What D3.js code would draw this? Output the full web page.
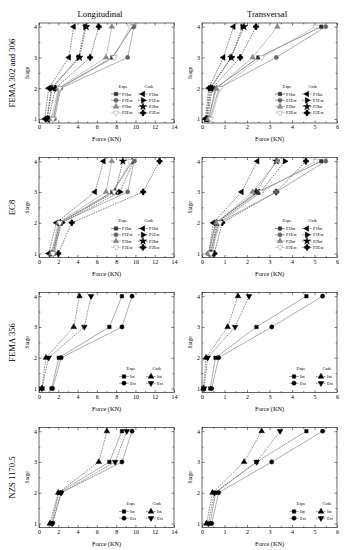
<!DOCTYPE html>
<html>
<head>
<meta charset="utf-8">
<script src="https://cdn.jsdelivr.net/npm/d3@7"></script>
<style>
  body { margin: 0; background: #fff; }
  svg { font-family: "Liberation Serif", "Times New Roman", serif; }
</style>
</head>
<body>
<svg id="chart" width="345" height="550"></svg>
<script>
// ---- data ----
const stages = [1, 2, 3, 4];
const forceTicksLong = [0, 2, 4, 6, 8, 10, 12, 14];
const forceTicksTrans = [0, 1, 2, 3, 4, 5, 6];
const colTitles = ["Longitudinal", "Transversal"];
const rowTitles = ["FEMA 302 and 306", "EC8", "FEMA 356", "NZS 1170.5"];
const labels4 = ["P1Int", "P1Ext", "P2Int", "P2Ext"];
const labels2 = ["Int", "Ext"];

// experimental, order P1Int, P1Ext, P2Int, P2Ext
const expeLong = [
  [1.5, 2.1, 7.6, 9.7],
  [1.6, 2.25, 9.2, 9.85],
  [1.3, 2.0, 6.95, 7.55],
  [1.45, 2.15, 7.8, 9.45]
];
const expeTrans = [
  [0.3, 0.6, 2.5, 5.3],
  [0.35, 0.75, 3.3, 5.5],
  [0.28, 0.65, 2.25, 3.35],
  [0.4, 0.8, 2.65, 5.05]
];
// experimental averaged, order Int, Ext
const expeLongAvg = [
  [1.3, 2.05, 7.3, 8.6],
  [1.4, 2.3, 8.6, 9.65]
];
const expeTransAvg = [
  [0.36, 0.6, 2.42, 4.64],
  [0.43, 0.74, 3.1, 5.36]
];

// code predictions
const femaLong = [
  [0.6, 1.0, 3.1, 3.6],
  [0.8, 1.3, 4.1, 4.8],
  [0.85, 1.35, 4.2, 4.9],
  [1.0, 1.7, 5.3, 6.2]
];
const femaTrans = [
  [0.15, 0.3, 0.95, 1.4],
  [0.2, 0.35, 1.3, 1.8],
  [0.2, 0.4, 1.3, 1.87],
  [0.25, 0.45, 1.7, 2.4]
];
const ec8Long = [
  [1.0, 1.8, 5.8, 6.7],
  [1.4, 2.4, 8.4, 9.8],
  [1.3, 2.2, 7.9, 8.7],
  [2.0, 3.4, 10.8, 12.5]
];
const ec8Trans = [
  [0.3, 0.5, 1.76, 2.46],
  [0.45, 0.7, 2.6, 3.68],
  [0.4, 0.65, 2.4, 3.3],
  [0.55, 0.9, 3.3, 4.62]
];
const fema356Long = [
  [0.3, 0.72, 3.6, 4.2],
  [0.3, 1.0, 4.7, 5.4]
];
const fema356Trans = [
  [0.06, 0.18, 1.14, 1.6],
  [0.09, 0.25, 1.47, 2.09]
];
const nzsLong = [
  [1.13, 2.0, 6.2, 7.04],
  [1.37, 2.3, 7.9, 9.1]
];
const nzsTrans = [
  [0.2, 0.47, 1.87, 2.65],
  [0.28, 0.55, 2.43, 3.47]
];

// ---- layout ----
const svg = d3.select("#chart");
const colX = [39, 202];
const plotW = 135, plotH = 100;
const rowY = [23, 157.5, 292.5, 427.5];

// symbols
const tri = d3.symbol().type(d3.symbolTriangle).size(14)();
const shapes = {
  square: { d: d3.symbol().type(d3.symbolSquare).size(12)(), rot: 0 },
  circle: { d: d3.symbol().type(d3.symbolCircle).size(14)(), rot: 0 },
  up: { d: tri, rot: 0 },
  down: { d: tri, rot: 180 },
  left: { d: tri, rot: -90 },
  right: { d: tri, rot: 90 },
  star: { d: d3.symbol().type(d3.symbolStar).size(16)(), rot: 0 },
  plus: { d: d3.symbol().type(d3.symbolCross).size(16)() + d3.symbol().type(d3.symbolDiamond).size(12)(), rot: 0 }
};

const expeStyle4 = [
  { shape: "square", fill: "#333", stroke: "#333", line: "#444" },
  { shape: "circle", fill: "#666", stroke: "#666", line: "#777" },
  { shape: "up", fill: "#888", stroke: "#888", line: "#999" },
  { shape: "down", fill: "#fff", stroke: "#999", line: "#aaa" }
];
const codeStyle4 = [
  { shape: "left", fill: "#000", stroke: "#000", line: "#333" },
  { shape: "right", fill: "#000", stroke: "#000", line: "#333" },
  { shape: "star", fill: "#000", stroke: "#000", line: "#333" },
  { shape: "plus", fill: "#000", stroke: "#000", line: "#333" }
];
const expeStyle2 = [
  { shape: "square", fill: "#000", stroke: "#000", line: "#777" },
  { shape: "circle", fill: "#000", stroke: "#000", line: "#777" }
];
const codeStyle2 = [
  { shape: "up", fill: "#000", stroke: "#000", line: "#444" },
  { shape: "down", fill: "#000", stroke: "#000", line: "#444" }
];

function marker(g, style, x, y) {
  const s = shapes[style.shape];
  g.append("path")
    .attr("d", s.d)
    .attr("transform", "translate(" + x + "," + y + ") rotate(" + s.rot + ")")
    .attr("fill", style.fill)
    .attr("stroke", style.stroke)
    .attr("stroke-width", 0.5);
}

function panel(row, col, expe, code, expeStyles, codeStyles, names, legendX) {
  const g = svg.append("g")
    .attr("transform", "translate(" + colX[col] + "," + rowY[row] + ")");
  const xMax = col === 0 ? 14 : 6;
  const x = d3.scaleLinear().domain([0, xMax]).range([0, plotW]);
  const y = d3.scaleLinear().domain([0.87, 4.12]).range([plotH, 0]);
  const ticks = col === 0 ? forceTicksLong : forceTicksTrans;
  const minor = ticks.slice(0, -1).map((t, i) => (t + ticks[i + 1]) / 2);

  // axes: major + minor ticks, inward, mirrored
  const axes = g.append("g").attr("class", "axes");
  axes.append("g").attr("transform", "translate(0," + plotH + ")")
    .call(d3.axisBottom(x).tickValues(ticks).tickSize(-2.5).tickPadding(2).tickFormat(d3.format("d")));
  axes.append("g").attr("transform", "translate(0," + plotH + ")")
    .call(d3.axisBottom(x).tickValues(minor).tickSize(-1.5).tickFormat(""));
  axes.append("g")
    .call(d3.axisTop(x).tickValues(ticks).tickSize(-2.5).tickFormat(""));
  axes.append("g")
    .call(d3.axisTop(x).tickValues(minor).tickSize(-1.5).tickFormat(""));
  axes.append("g")
    .call(d3.axisLeft(y).tickValues(stages).tickSize(-2.5).tickPadding(2).tickFormat(d3.format("d")));
  axes.append("g")
    .call(d3.axisLeft(y).tickValues([1.5, 2.5, 3.5]).tickSize(-1.5).tickFormat(""));
  axes.append("g").attr("transform", "translate(" + plotW + ",0)")
    .call(d3.axisRight(y).tickValues(stages).tickSize(-2.5).tickFormat(""));
  axes.append("g").attr("transform", "translate(" + plotW + ",0)")
    .call(d3.axisRight(y).tickValues([1.5, 2.5, 3.5]).tickSize(-1.5).tickFormat(""));
  axes.selectAll(".domain").remove();
  axes.selectAll("line").attr("stroke", "#000").attr("stroke-width", 0.5);
  axes.selectAll("text").attr("font-size", 6).attr("font-family", "Liberation Serif").attr("fill", "#000");

  g.append("rect").attr("width", plotW).attr("height", plotH)
    .attr("fill", "none").attr("stroke", "#000").attr("stroke-width", 0.6);

  // axis titles
  g.append("text").attr("x", plotW / 2).attr("y", plotH + 18)
    .attr("text-anchor", "middle").attr("font-size", 6.3).text("Force (KN)");
  g.append("text")
    .attr("transform", "translate(-10," + (plotH / 2) + ") rotate(-90)")
    .attr("text-anchor", "middle").attr("font-size", 5.5).text("Stage");

  const line = d3.line().x(d => x(d[0])).y(d => y(d[1]));

  // code series (dashed)
  code.forEach((vals, i) => {
    const pts = vals.map((v, j) => [v, stages[j]]);
    g.append("path").attr("d", line(pts)).attr("fill", "none")
      .attr("stroke", codeStyles[i].line).attr("stroke-width", 0.6)
      .attr("stroke-dasharray", "1.6,1");
  });
  // expe series (solid)
  expe.forEach((vals, i) => {
    const pts = vals.map((v, j) => [v, stages[j]]);
    g.append("path").attr("d", line(pts)).attr("fill", "none")
      .attr("stroke", expeStyles[i].line).attr("stroke-width", 0.6);
  });
  code.forEach((vals, i) => vals.forEach((v, j) => marker(g, codeStyles[i], x(v), y(stages[j]))));
  expe.forEach((vals, i) => vals.forEach((v, j) => marker(g, expeStyles[i], x(v), y(stages[j]))));

  // legend
  const n = names.length;
  const lg = g.append("g").attr("font-size", 4.3);
  const headY = n === 4 ? 63 : 76;
  const rowStep = n === 4 ? 6.3 : 6.7;
  const firstY = headY + 8;
  const ex = legendX, cx = legendX + 27;
  lg.append("text").attr("x", ex + 7).attr("y", headY + 1.5).attr("text-anchor", "middle").text("Expe");
  lg.append("text").attr("x", cx + 6).attr("y", headY + 1.5).attr("text-anchor", "middle").text("Code");
  names.forEach((nm, i) => {
    const yy = firstY + i * rowStep;
    lg.append("line").attr("x1", ex - 5).attr("x2", ex + 5).attr("y1", yy).attr("y2", yy)
      .attr("stroke", expeStyles[i].line).attr("stroke-width", 0.6);
    marker(lg, expeStyles[i], ex, yy);
    lg.append("text").attr("x", ex + 6).attr("y", yy + 1.5).text(nm);
    lg.append("line").attr("x1", cx - 5).attr("x2", cx + 5).attr("y1", yy).attr("y2", yy)
      .attr("stroke", codeStyles[i].line).attr("stroke-width", 0.6).attr("stroke-dasharray", "1.6,1");
    marker(lg, codeStyles[i], cx, yy);
    lg.append("text").attr("x", cx + 6).attr("y", yy + 1.5).text(nm);
  });
}

// column titles
colTitles.forEach((t, i) => {
  svg.append("text").attr("x", i === 0 ? 100 : 267).attr("y", 17)
    .attr("text-anchor", "middle").attr("font-size", 8.7).text(t);
});
// row titles
rowTitles.forEach((t, i) => {
  svg.append("text")
    .attr("transform", "translate(15," + (rowY[i] + plotH / 2) + ") rotate(-90)")
    .attr("text-anchor", "middle").attr("font-size", 8.7).text(t);
});

panel(0, 0, expeLong, femaLong, expeStyle4, codeStyle4, labels4, 77);
panel(0, 1, expeTrans, femaTrans, expeStyle4, codeStyle4, labels4, 78);
panel(1, 0, expeLong, ec8Long, expeStyle4, codeStyle4, labels4, 77);
panel(1, 1, expeTrans, ec8Trans, expeStyle4, codeStyle4, labels4, 78);
panel(2, 0, expeLongAvg, fema356Long, expeStyle2, codeStyle2, labels2, 85);
panel(2, 1, expeTransAvg, fema356Trans, expeStyle2, codeStyle2, labels2, 92);
panel(3, 0, expeLongAvg, nzsLong, expeStyle2, codeStyle2, labels2, 85);
panel(3, 1, expeTransAvg, nzsTrans, expeStyle2, codeStyle2, labels2, 92);
</script>
</body>
</html>
